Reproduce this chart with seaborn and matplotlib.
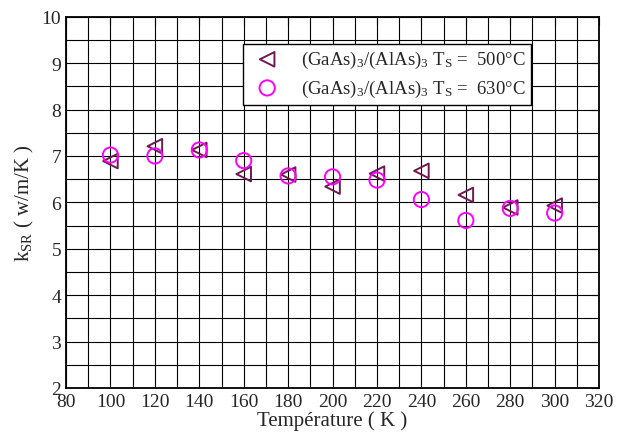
import numpy as np
import pandas as pd
import seaborn as sns
import matplotlib.pyplot as plt
from matplotlib.ticker import MultipleLocator

# données
temperature = [100, 120, 140, 160, 180, 200, 220, 240, 260, 280, 300]
k_500 = [6.89, 7.21, 7.13, 6.61, 6.60, 6.34, 6.62, 6.68, 6.16, 5.89, 5.93]
k_630 = [7.02, 7.00, 7.13, 6.90, 6.57, 6.55, 6.48, 6.06, 5.61, 5.87, 5.77]

label_500 = r"(GaAs)$_3$/(AlAs)$_3$ T$_\mathrm{S}$ =  500°C"
label_630 = r"(GaAs)$_3$/(AlAs)$_3$ T$_\mathrm{S}$ =  630°C"

sns.set_style("white")
plt.rcParams['font.family'] = ['Liberation Serif', 'DejaVu Serif']
plt.rcParams['mathtext.fontset'] = 'custom'
plt.rcParams['mathtext.rm'] = 'Liberation Serif'
plt.rcParams['mathtext.it'] = 'Liberation Serif:italic'

df500 = pd.DataFrame({"T": temperature, "k": k_500})
df630 = pd.DataFrame({"T": temperature, "k": k_630})

fig = plt.figure(figsize=(6.17, 4.35), dpi=100)
ax = fig.add_axes([0.107, 0.106, 0.864, 0.853])

sns.scatterplot(data=df500, x="T", y="k", marker="<", s=110,
                facecolor="none", edgecolor="#6e1a52", linewidth=1.4,
                label=label_500, ax=ax, zorder=3)
sns.scatterplot(data=df630, x="T", y="k", marker="o", s=120,
                facecolor="none", edgecolor="#ff00ff", linewidth=1.4,
                label=label_630, ax=ax, zorder=3)

ax.set_xlim(80, 320)
ax.set_ylim(2, 10)
ax.xaxis.set_major_locator(MultipleLocator(20))
ax.xaxis.set_minor_locator(MultipleLocator(10))
ax.yaxis.set_major_locator(MultipleLocator(1))
ax.yaxis.set_minor_locator(MultipleLocator(0.5))
ax.grid(True, which="both", color="black", linewidth=0.8)
ax.set_axisbelow(True)

ax.tick_params(which="both", direction="in", top=True, right=True,
               labelsize=14, color="black")
ax.tick_params(which="major", length=6)
ax.tick_params(which="minor", length=3)
ax.tick_params(axis="x", pad=4)
for s in ax.spines.values():
    s.set_color("black")
    s.set_linewidth(1.3)

ax.set_xlabel("Température ( K )", fontsize=15, labelpad=0)
ax.set_ylabel(r"k$_\mathrm{SR}$ ( w/m/K )", fontsize=15, labelpad=4)

leg = ax.legend(loc="upper right", bbox_to_anchor=(0.8724, 0.928), fontsize=13.5,
                frameon=True, fancybox=False, edgecolor="black", borderaxespad=0,
                handletextpad=0.8, borderpad=0.3, labelspacing=0.4, framealpha=1)
leg.get_frame().set_linewidth(1.0)

plt.savefig("out.png", dpi=100)
